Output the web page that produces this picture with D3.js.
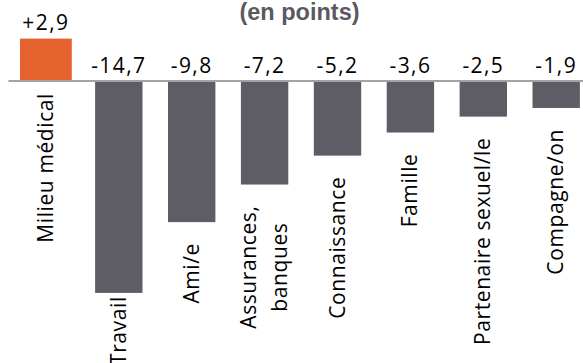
<!DOCTYPE html>
<html>
<head>
<meta charset="utf-8">
<script src="https://cdn.jsdelivr.net/npm/d3@7"></script>
<style>
  html, body { margin: 0; padding: 0; background: #fff; }
  svg { display: block; }
</style>
</head>
<body>
<svg id="chart" width="583" height="363"></svg>
<script>
// ---- data ----
const categories = ["Milieu médical", "Travail", "Ami/e", "Assurances,\nbanques", "Connaissance", "Famille", "Partenaire sexuel/le", "Compagne/on"];
const values = [2.9, -14.7, -9.8, -7.2, -5.2, -3.6, -2.5, -1.9];
const title = "(en points)";

// ---- layout ----
const W = 583, H = 363;
const svg = d3.select("#chart");
const labelFont = "'Open Sans', Lato, sans-serif";
const labelSize = "21px";
const labelSpacing = "0.6px";

const x = d3.scaleBand()
  .domain(categories)
  .range([9.45, 592.65])
  .paddingInner(0.35)
  .paddingOuter(0.175);

const y = d3.scaleLinear()
  .domain([-14.7, 2.9])
  .range([292.9, 38.6]);

const fmt = d3.formatLocale({decimal: ",", thousands: " ", grouping: [3], currency: ["", "€"], minus: "-"}).format("+.1f");

const data = categories.map((c, i) => ({cat: c, v: values[i], i}));

// title
svg.append("text")
  .attr("x", 299.5).attr("y", 20)
  .attr("text-anchor", "middle")
  .attr("font-family", "'Liberation Sans', Arial, sans-serif")
  .attr("font-weight", "bold")
  .attr("font-size", "23.5px")
  .attr("fill", "#5a5961")
  .text(title);

// bars
svg.append("g").selectAll("rect").data(data).join("rect")
  .attr("x", d => x(d.cat) - (d.v > 0 ? 2.2 : 0))
  .attr("width", d => x.bandwidth() + (d.v > 0 ? 4.4 : 0))
  .attr("y", d => y(Math.max(0, d.v)))
  .attr("height", d => Math.abs(y(d.v) - y(0)))
  .attr("fill", d => d.v > 0 ? "#e6622e" : "#5e5d66");

// zero line
svg.append("line")
  .attr("x1", x.range()[0] - 1).attr("x2", W)
  .attr("y1", y(0) + 0.6).attr("y2", y(0) + 0.6)
  .attr("stroke", "#a3a3a3").attr("stroke-width", 2);

// value labels
svg.append("g").selectAll("text").data(data).join("text")
  .attr("x", d => x(d.cat) + x.bandwidth() / 2)
  .attr("y", d => d.v > 0 ? y(d.v) - 9 : y(0) - 7.5)
  .attr("text-anchor", "middle")
  .attr("font-family", labelFont)
  .attr("font-size", labelSize)
  .attr("letter-spacing", "1.4px")
  .attr("fill", "#000")
  .text(d => fmt(d.v));

// category labels (rotated)
const gl = svg.append("g");
data.forEach(d => {
  const lines = d.cat.split("\n");
  const cx = x(d.cat) + x.bandwidth() / 2;
  const t = gl.append("text")
    .attr("font-family", labelFont)
    .attr("font-size", labelSize)
    .attr("letter-spacing", labelSpacing)
    .attr("fill", "#000")
    .attr("text-anchor", "middle");
  const ts = lines.map((ln, k) => t.append("tspan")
    .attr("x", 0)
    .attr("y", 7 + (k - (lines.length - 1) / 2) * 31)
    .text(ln));
  const len = d3.max(ts, s => s.node().getComputedTextLength());
  let top = d.v > 0 ? y(0) + 12.5 : y(d.v) + 21;
  if (top + len > H + 2) top = H + 2 - len;
  t.attr("transform", `translate(${cx},${top + len / 2}) rotate(-90)`);
});
</script>
</body>
</html>
